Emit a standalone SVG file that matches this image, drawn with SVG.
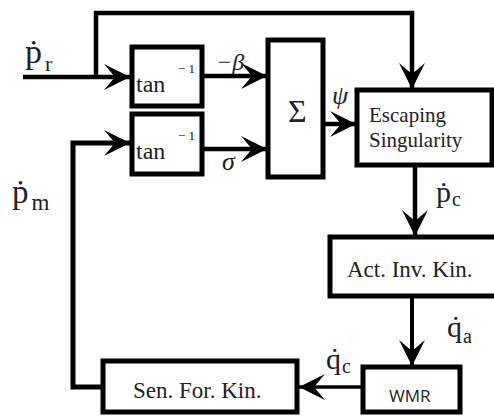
<svg xmlns="http://www.w3.org/2000/svg" width="494" height="416" viewBox="0 0 494 416">
<style>
.box{fill:#fff;stroke:#000;stroke-width:5}
.ln{fill:none;stroke:#000;stroke-width:4.5}
.s{font-family:"Liberation Serif","Times New Roman",serif;fill:#222}
.it{font-style:italic}
.w{font-family:"Open Sans","DejaVu Sans",sans-serif;fill:#222}
</style>
<defs>
<marker id="ah" markerUnits="userSpaceOnUse" markerWidth="30" markerHeight="30" viewBox="-28 -15 30 30" refX="0" refY="0" orient="auto" overflow="visible">
<path d="M0 0 L-26 -13 L-15 0 L-26 13 Z" fill="#000"/>
</marker>
</defs>
<g id="connectors">
<path class="ln" d="M23 77 H130" marker-end="url(#ah)"/>
<path class="ln" d="M96 77 V13 H412 V89" marker-end="url(#ah)"/>
<path class="ln" d="M202 76 H267" marker-end="url(#ah)"/>
<path class="ln" d="M202 149 H267" marker-end="url(#ah)"/>
<path class="ln" d="M323 124 H356" marker-end="url(#ah)"/>
<path class="ln" d="M415 165 V236" marker-end="url(#ah)"/>
<path class="ln" style="stroke-width:4" d="M412 297 V366" marker-end="url(#ah)"/>
<path class="ln" style="stroke-width:3.5" d="M363 387 H299" marker-end="url(#ah)"/>
<path class="ln" style="stroke-width:5" d="M103 387 H73 V143 H130" marker-end="url(#ah)"/>
</g>
<g id="labels">
<text class="s" x="25" y="63" font-size="34">ṗ<tspan font-size="22" dx="3" dy="8">r</tspan></text>
<text class="s" x="12" y="203" font-size="33">ṗ<tspan font-size="23" dx="3" dy="7">m</tspan></text>
<text class="s it" x="216" y="70" font-size="24">−β</text>
<text class="s it" x="222" y="170" font-size="26">σ</text>
<text class="s it" x="332" y="104" font-size="26">ψ</text>
<text class="s" x="436" y="202" font-size="30">ṗ<tspan font-size="20" dx="1" dy="4">c</tspan></text>
<text class="s" x="447" y="337" font-size="30">q̇<tspan font-size="20" dx="1" dy="6">a</tspan></text>
<text class="s" x="326" y="369" font-size="30">q̇<tspan font-size="20" dx="1" dy="4">c</tspan></text>
</g>
<g id="tan1">
<rect class="box" x="132" y="47" width="70" height="59"/>
<text class="s" x="136" y="92" font-size="24">tan</text>
<text class="s" x="178" y="73" font-size="13">− 1</text>
</g>
<g id="tan2">
<rect class="box" x="132" y="114" width="70" height="60"/>
<text class="s" x="136" y="159" font-size="24">tan</text>
<text class="s" x="178" y="140" font-size="13">− 1</text>
</g>
<g id="sum">
<rect class="box" x="268" y="40" width="55" height="137"/>
<text class="s" x="288" y="122" font-size="32">Σ</text>
</g>
<g id="escaping">
<rect class="box" x="357" y="90" width="135" height="75"/>
<text class="s" x="369" y="122" font-size="21">Escaping</text>
<text class="s" x="369" y="147" font-size="21">Singularity</text>
</g>
<g id="actinv">
<rect class="box" x="330" y="237" width="170" height="59"/>
<text class="s" x="347" y="277" font-size="23">Act. Inv. Kin.</text>
</g>
<g id="wmr">
<rect class="box" x="363" y="367" width="97" height="45"/>
<text class="w" x="389" y="402" font-size="17">WMR</text>
</g>
<g id="senfor">
<rect class="box" x="103" y="361" width="194" height="51"/>
<text class="s" x="133" y="398" font-size="23">Sen. For. Kin.</text>
</g>
</svg>
